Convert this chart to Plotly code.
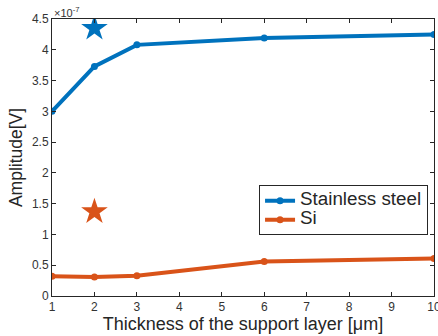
import plotly.graph_objects as go

thickness = [1, 2, 3, 6, 10]
steel = [3.00, 3.73, 4.08, 4.19, 4.25]
si = [0.32, 0.31, 0.33, 0.56, 0.61]
star_x = [2]
star_steel = [4.35]
star_si = [1.37]
x_ticks = list(range(1, 11))
y_ticks = [0, 0.5, 1, 1.5, 2, 2.5, 3, 3.5, 4, 4.5]
series_names = ["Stainless steel", "Si"]

blue = "#0072BD"
orange = "#D95319"
font = "Liberation Sans, Arial, sans-serif"

def legend_name(s):
    return f"<span style='font-size:18.8px'>{s}</span>"

fig = go.Figure()
fig.add_trace(go.Scatter(x=thickness, y=steel, mode="lines+markers", name=legend_name(series_names[0]),
                         line=dict(color=blue, width=4), marker=dict(size=7, color=blue)))
fig.add_trace(go.Scatter(x=thickness, y=si, mode="lines+markers", name=legend_name(series_names[1]),
                         line=dict(color=orange, width=4), marker=dict(size=7, color=orange)))
fig.add_trace(go.Scatter(x=star_x, y=star_steel, mode="markers", showlegend=False,
                         marker=dict(symbol="star", size=20, color=blue)))
fig.add_trace(go.Scatter(x=star_x, y=star_si, mode="markers", showlegend=False,
                         marker=dict(symbol="star", size=20, color=orange)))

axis_common = dict(showgrid=False, zeroline=False, showline=True, linecolor="#262626", linewidth=1,
                   mirror="ticks", ticks="inside", ticklen=4, tickcolor="#262626", automargin=False,
                   tickfont=dict(family=font, size=12, color="#333333"))
fig.update_xaxes(range=[1, 10], tickvals=x_ticks, ticklabeloverflow="allow", **axis_common,
                 title=dict(text="Thickness of the support layer [μm]", font=dict(family=font, size=18, color="#262626"), standoff=2))
fig.update_yaxes(range=[0, 4.5], tickvals=y_ticks, **axis_common,
                 title=dict(text="Amplitude[V]", font=dict(family=font, size=17.5, color="#262626"), standoff=4))

fig.add_annotation(x=0, y=1, xref="paper", yref="paper", xanchor="left", yanchor="bottom",
                   text="×10<sup>-7</sup>", showarrow=False, yshift=-2,
                   font=dict(family=font, size=11, color="#333333"))

fig.update_layout(width=438, height=336, margin=dict(l=52, r=4, t=19, b=40),
                  plot_bgcolor="white", paper_bgcolor="white",
                  legend=dict(x=0.542, y=0.40, xanchor="left", yanchor="top",
                              bordercolor="#262626", borderwidth=1, bgcolor="white",
                              font=dict(family=font, size=12, color="#262626"),
                              tracegroupgap=0, itemwidth=30))
fig.write_html("out.html")
